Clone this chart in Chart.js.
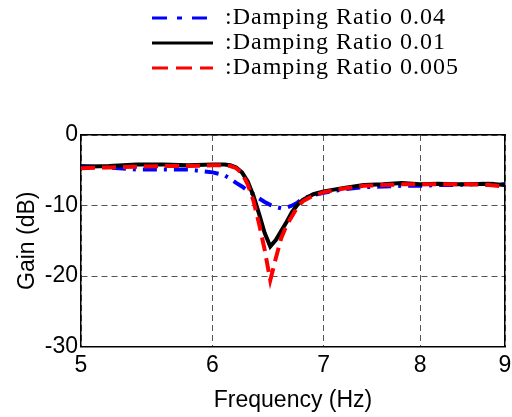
<!DOCTYPE html>
<html><head><meta charset="utf-8">
<script src="https://cdn.jsdelivr.net/npm/chart.js@4/dist/chart.umd.min.js"></script>
<style>html,body{margin:0;padding:0;background:#fff;}</style>
</head><body>
<canvas id="c" width="512" height="417"></canvas>
<script>
const frequency = [5.0, 5.2, 5.4, 5.6, 5.8, 6.0, 6.1, 6.15, 6.2, 6.25, 6.3, 6.35, 6.4, 6.45, 6.5, 6.55, 6.6, 6.65, 6.7, 6.75, 6.8, 6.9, 7.0, 7.2, 7.4, 7.6, 7.8, 8.0, 8.2, 8.4, 8.6, 8.8, 9.0];
const gainDR004 = [-4.4, -4.6, -4.9, -4.9, -4.9, -5.3, -5.7, -6.2, -6.8, -7.3, -7.9, -8.4, -9.0, -9.5, -9.9, -10.2, -10.4, -10.3, -10.0, -9.6, -9.0, -8.5, -8.2, -7.7, -7.4, -7.3, -7.2, -7.2, -7.1, -7.1, -7.0, -6.9, -7.0];
const gainDR001 = [-4.5, -4.4, -4.2, -4.2, -4.3, -4.2, -4.2, -4.3, -4.6, -5.3, -6.6, -8.6, -11.2, -13.9, -15.8, -14.9, -13.6, -12.3, -10.9, -9.9, -9.2, -8.4, -8.0, -7.5, -7.1, -7.0, -6.8, -7.0, -6.9, -7.0, -7.0, -6.9, -7.1];
const gainDR0005 = [-4.7, -4.6, -4.5, -4.4, -4.4, -4.3, -4.3, -4.4, -4.7, -5.4, -7.0, -9.3, -12.6, -16.3, -20.6, -17.5, -14.6, -12.8, -11.5, -10.2, -9.4, -8.6, -8.1, -7.6, -7.2, -7.1, -7.0, -7.0, -7.0, -7.0, -7.0, -7.1, -7.3];
const seriesLabels = [':Damping Ratio 0.04', ':Damping Ratio 0.01', ':Damping Ratio 0.005'];
const xTickValues = [5, 6, 7, 8, 9];
const yTickValues = [0, -10, -20, -30];
const xTitle = 'Frequency (Hz)';
const yTitle = 'Gain (dB)';

const pts = g => frequency.map((f, i) => ({x: f, y: g[i]}));
const sans = 'Liberation Sans, Arial, sans-serif';

const legendShift = {
  id: 'legendShift',
  afterLayout(chart) {
    const lg = chart.legend;
    if (!lg) return;
    lg.left = 151;
    if (!lg._spacedDraw) {
      const orig = lg.draw.bind(lg);
      lg.draw = function () {
        const ctx = chart.ctx;
        const had = 'letterSpacing' in ctx;
        if (had) ctx.letterSpacing = '1px';
        orig();
        if (had) ctx.letterSpacing = '0px';
      };
      lg._spacedDraw = true;
    }
  }
};

new Chart(document.getElementById('c'), {
  type: 'line',
  data: {
    datasets: [
      {label: seriesLabels[2], data: pts(gainDR0005), borderColor: '#ff0000', borderWidth: 4, borderDash: [14, 7], legendDash: [16, 8]},
      {label: seriesLabels[1], data: pts(gainDR001), borderColor: '#000000', borderWidth: 4, borderDash: [], legendDash: []},
      {label: seriesLabels[0], data: pts(gainDR004), borderColor: '#0000ff', borderWidth: 4, borderDash: [14, 7, 3, 7], legendDash: [15, 10, 5, 10]}
    ]
  },
  options: {
    responsive: false,
    animation: false,
    devicePixelRatio: 1,
    elements: {point: {radius: 0}, line: {tension: 0, fill: false}},
    layout: {padding: {top: 5, left: 0, right: 7, bottom: 0}},
    plugins: {
      tooltip: {enabled: false},
      title: {display: true, text: ' ', font: {size: 10}, padding: {top: 33, bottom: 0}, weight: 500},
      legend: {
        display: true, position: 'top', align: 'start', reverse: true, weight: 3000,
        labels: {
          usePointStyle: true, pointStyle: 'line', pointStyleWidth: 61, padding: 1,
          color: '#000', font: {family: 'Liberation Serif, Times New Roman, serif', size: 24},
          generateLabels(chart) {
            const items = Chart.defaults.plugins.legend.labels.generateLabels(chart);
            items.forEach(it => {
              const ds = chart.data.datasets[it.datasetIndex];
              it.lineWidth = 3;
              it.lineDash = ds.legendDash;
              it.strokeStyle = ds.borderColor;
              it.fillStyle = ds.borderColor;
            });
            return items;
          }
        }
      }
    },
    scales: {
      x: {
        type: 'logarithmic', position: 'bottom', min: 5, max: 9,
        afterBuildTicks(s) { s.ticks = xTickValues.map(v => ({value: v})); },
        afterFit(s) { s.height = 70.5; s.paddingLeft = 0; s.paddingRight = 0; },
        ticks: {autoSkip: false, maxRotation: 0, padding: 5, color: '#000', font: {family: sans, size: 23}, callback: v => String(v)},
        grid: {display: true, drawTicks: false, color: '#555', lineWidth: 1},
        border: {display: true, color: '#000', width: 1.5, dash: [6, 4]},
        title: {display: true, text: xTitle, color: '#000', font: {family: sans, size: 23}, padding: {top: 0, bottom: 3}}
      },
      y: {
        type: 'linear', position: 'left', min: -30, max: 0,
        afterBuildTicks(s) { s.ticks = yTickValues.map(v => ({value: v})); },
        afterFit(s) { s.width = 81; },
        ticks: {padding: 3, color: '#000', font: {family: sans, size: 23}},
        grid: {display: true, drawTicks: false, color: '#555', lineWidth: 1},
        border: {display: true, color: '#000', width: 1.5, dash: [6, 4]},
        title: {display: true, text: yTitle, color: '#000', font: {family: sans, size: 23}, padding: {top: 14, bottom: 0}}
      },
      x2: {
        type: 'linear', position: 'top', display: true,
        afterFit(s) { s.height = 0; s.paddingLeft = 0; s.paddingRight = 0; },
        ticks: {display: false}, grid: {display: false, drawTicks: false},
        border: {display: true, color: '#000', width: 1.5}
      },
      y2: {
        type: 'linear', position: 'right', display: true,
        afterFit(s) { s.width = 0; },
        ticks: {display: false}, grid: {display: false, drawTicks: false},
        border: {display: true, color: '#000', width: 1.5}
      }
    }
  },
  plugins: [legendShift]
});
</script>
</body></html>
